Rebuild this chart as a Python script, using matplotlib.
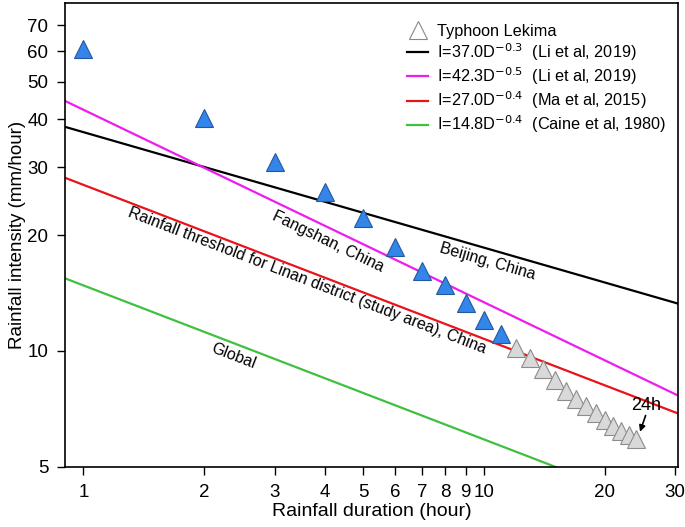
import numpy as np
import matplotlib
matplotlib.use('Agg')
import matplotlib.pyplot as plt
from matplotlib.ticker import FixedLocator, FixedFormatter, NullLocator

plt.rcParams['font.family'] = ['Liberation Sans', 'DejaVu Sans']

# Typhoon Lekima observations (duration in hours, intensity mm/hour)
dur_blue = [1, 2, 3, 4, 5, 6, 7, 8, 9, 10, 11]
int_blue = [61.0, 40.3, 31.0, 25.9, 22.2, 18.6, 16.1, 14.8, 13.3, 12.05, 11.1]
dur_gray = [12, 13, 14, 15, 16, 17, 18, 19, 20, 21, 22, 23, 24]
int_gray = [10.2, 9.57, 8.96, 8.39, 7.89, 7.52, 7.21, 6.92, 6.63, 6.40, 6.21, 6.06, 5.92]

# I = a * D^b thresholds
coef_a = [37.0, 42.3, 27.0, 14.8]
coef_b = [-0.3, -0.5, -0.4, -0.4]
refs = ['(Li et al, 2019)', '(Li et al, 2019)', '(Ma et al, 2015)', '(Caine et al, 1980)']
colors = ['black', '#ee1cee', '#e8141a', '#3fc13f']

xticks = [1, 2, 3, 4, 5, 6, 7, 8, 9, 10, 20, 30]
yticks = [5, 10, 20, 30, 40, 50, 60, 70]

fig = plt.figure(figsize=(6.85, 5.27), dpi=100)
ax = fig.add_axes([0.095, 0.114, 0.895, 0.88])
ax.set_xscale('log')
ax.set_yscale('log')
xmin, xmax = 0.9, 30.5
ymin, ymax = 5, 80
ax.set_xlim(xmin, xmax)
ax.set_ylim(ymin, ymax)

d = np.logspace(np.log10(xmin), np.log10(xmax), 200)
handles = []
ms = 13
h0, = ax.plot([], [], '^', ms=13, mfc='white', mec='#888888', mew=0.8, label='Typhoon Lekima')
handles.append(h0)
for a, b, c, r in zip(coef_a, coef_b, colors, refs):
    h, = ax.plot(d, a * d ** b, color=c, lw=1.6,
                 label=r'I=%.1fD$^{%.1f}$  %s' % (a, b, r))
    handles.append(h)

ax.plot(dur_gray, int_gray, '^', ms=ms, mfc='#d9d9d9', mec='#8c8c8c', mew=0.8, zorder=4)
ax.plot(dur_blue, int_blue, '^', ms=ms, mfc='#3385ea', mec='#25579e', mew=0.8, zorder=5)

ax.xaxis.set_major_locator(FixedLocator(xticks))
ax.xaxis.set_major_formatter(FixedFormatter([str(t) for t in xticks]))
ax.xaxis.set_minor_locator(NullLocator())
ax.yaxis.set_major_locator(FixedLocator(yticks))
ax.yaxis.set_major_formatter(FixedFormatter([str(t) for t in yticks]))
ax.yaxis.set_minor_locator(NullLocator())
ax.tick_params(direction='out', length=6, width=1, labelsize=13.5)
ax.tick_params(axis='x', pad=6)
ax.tick_params(axis='y', pad=6)
for s in ax.spines.values():
    s.set_linewidth(1.2)

ax.set_xlabel('Rainfall duration (hour)', fontsize=14, labelpad=2)
ax.set_ylabel('Rainfall intensity (mm/hour)', fontsize=13.5, labelpad=1)

leg = ax.legend(handles=handles, loc='upper right', frameon=False, fontsize=11.7,
                handlelength=1.3, handletextpad=0.55, labelspacing=0.15,
                borderaxespad=0.3, bbox_to_anchor=(1.0, 0.98))


def angle_of(a, b):
    p1 = ax.transData.transform((2.0, a * 2.0 ** b))
    p2 = ax.transData.transform((20.0, a * 20.0 ** b))
    return np.degrees(np.arctan2(p2[1] - p1[1], p2[0] - p1[0]))


labels = [('Beijing, China', 10.2, 17.1, 0),
          ('Fangshan, China', 4.07, 19.2, 1),
          ('Rainfall threshold for Linan district (study area), China', 3.61, 15.2, 2),
          ('Global', 2.37, 9.69, 3)]
for txt, x, y, i in labels:
    ax.text(x, y, txt, rotation=angle_of(coef_a[i], coef_b[i]), rotation_mode='anchor',
            ha='center', va='center', fontsize=11.5)

ax.text(25.4, 7.2, '24h', fontsize=13, ha='center', va='center')
ax.annotate('', xy=(24.5, 6.17), xytext=(25.3, 6.8),
            arrowprops=dict(arrowstyle='-|>', color='black', lw=1.2, shrinkA=0, shrinkB=0,
                            mutation_scale=9))

fig.savefig('out.png', dpi=100)
